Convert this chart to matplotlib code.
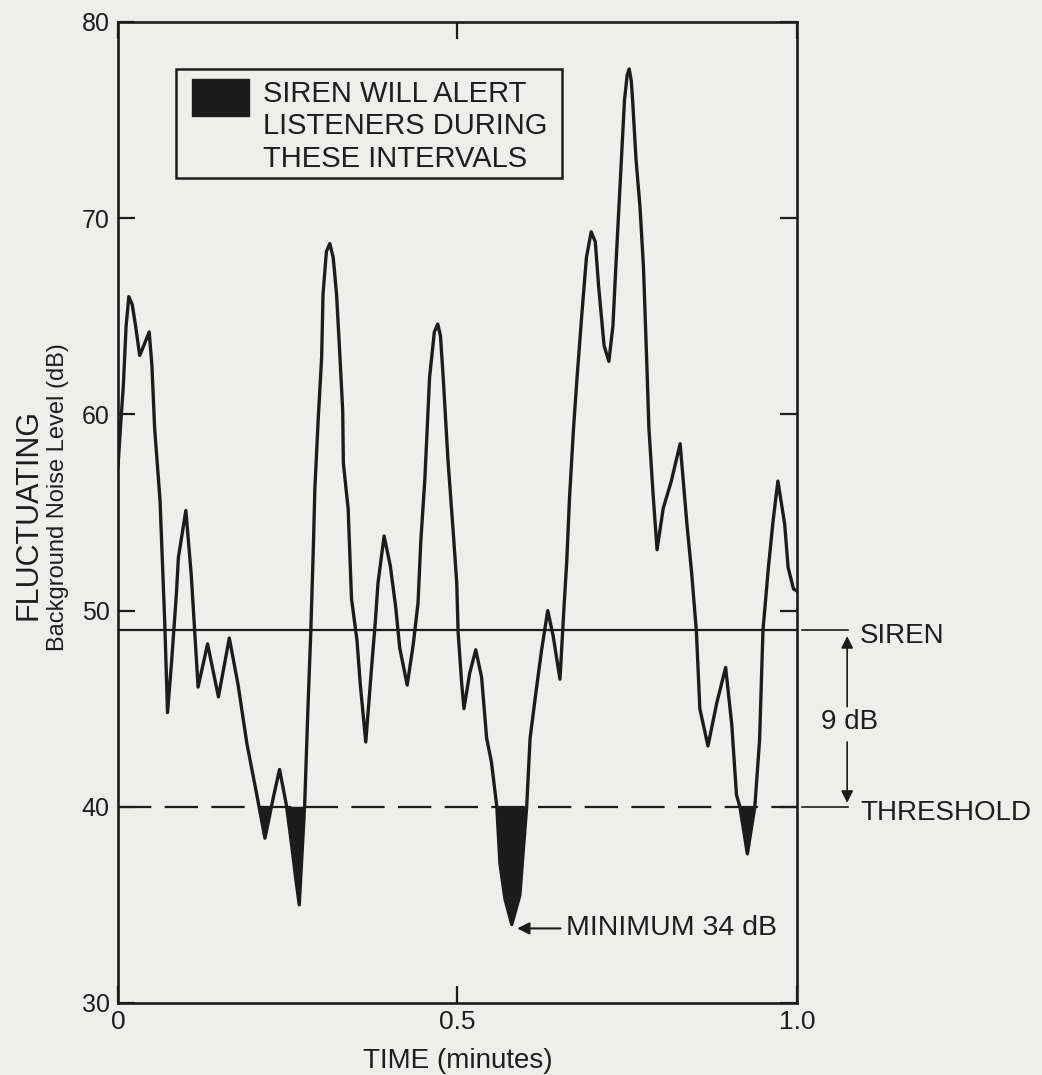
import matplotlib.pyplot as plt
import numpy as np
from matplotlib.patches import Rectangle

plt.rcParams['font.family'] = ['Liberation Sans', 'DejaVu Sans']

# traced background noise level (dB) vs time (minutes)
time_min = [0.0, 0.004, 0.008, 0.012, 0.016, 0.021, 0.026, 0.032, 0.038, 0.046,
            0.050, 0.054, 0.062, 0.069, 0.073, 0.079, 0.086, 0.089, 0.100, 0.108,
            0.118, 0.132, 0.148, 0.164, 0.177, 0.190, 0.204, 0.2165, 0.229, 0.238,
            0.248, 0.256, 0.262, 0.267, 0.275, 0.280, 0.284, 0.288, 0.290, 0.295,
            0.300, 0.302, 0.307, 0.312, 0.317, 0.322, 0.327, 0.331, 0.332, 0.339,
            0.344, 0.352, 0.357, 0.365, 0.374, 0.379, 0.383, 0.392, 0.401, 0.409,
            0.415, 0.426, 0.435, 0.442, 0.446, 0.452, 0.459, 0.466, 0.471, 0.475,
            0.479, 0.486, 0.494, 0.499, 0.501, 0.506, 0.5096, 0.518, 0.527, 0.5356,
            0.543, 0.550, 0.558, 0.5626, 0.570, 0.580, 0.592, 0.597, 0.602, 0.607,
            0.617, 0.624, 0.633, 0.641, 0.651, 0.657, 0.661, 0.665, 0.671, 0.676,
            0.683, 0.690, 0.697, 0.703, 0.708, 0.716, 0.723, 0.729, 0.734, 0.740,
            0.746, 0.750, 0.753, 0.756, 0.758, 0.763, 0.769, 0.774, 0.779, 0.782,
            0.788, 0.794, 0.803, 0.815, 0.828, 0.838, 0.845, 0.852, 0.857, 0.869,
            0.882, 0.895, 0.904, 0.911, 0.916, 0.927, 0.938, 0.945, 0.950, 0.958,
            0.965, 0.972, 0.982, 0.987, 0.995, 1.0]
level_db = [57.3, 59.5, 61.5, 64.5, 66.0, 65.6, 64.5, 63.0, 63.5, 64.2,
            62.5, 59.3, 55.6, 49.3, 44.8, 47.4, 50.8, 52.7, 55.1, 51.8,
            46.1, 48.3, 45.6, 48.6, 46.2, 43.2, 40.7, 38.4, 40.5, 41.9,
            40.1, 38.0, 36.3, 35.0, 40.1, 45.2, 48.9, 53.5, 56.2, 59.8,
            62.9, 66.1, 68.3, 68.7, 68.0, 66.1, 62.9, 60.2, 57.5, 55.2,
            50.6, 48.5, 46.2, 43.3, 47.3, 49.4, 51.4, 53.8, 52.3, 50.2,
            48.1, 46.2, 48.3, 50.4, 53.5, 56.7, 61.9, 64.2, 64.6, 64.0,
            61.9, 57.7, 53.9, 51.4, 48.9, 46.4, 45.0, 46.8, 48.0, 46.6,
            43.5, 42.3, 40.0, 37.1, 35.3, 34.0, 35.5, 37.8, 40.0, 43.5,
            46.2, 48.0, 50.0, 48.7, 46.5, 50.2, 52.5, 55.7, 59.3, 61.8,
            65.0, 68.0, 69.3, 68.8, 66.5, 63.5, 62.7, 64.5, 68.0, 72.0,
            76.0, 77.3, 77.6, 77.0, 76.0, 73.0, 70.5, 67.5, 62.5, 59.3,
            56.0, 53.1, 55.2, 56.6, 58.5, 54.4, 51.9, 48.9, 45.0, 43.1,
            45.3, 47.1, 44.2, 40.6, 40.0, 37.6, 40.0, 43.4, 49.0, 52.2,
            54.6, 56.6, 54.4, 52.2, 51.1, 51.0]

siren_db = 49
threshold_db = 40
minimum_db = 34

x_ticks = [0, 0.5, 1.0]
x_tick_labels = ['0', '0.5', '1.0']
y_ticks = [30, 40, 50, 60, 70, 80]

bg = '#eeeeec'
ink = '#1c1c1c'
txt = '#1e1e1e'

t = np.array(time_min)
level = np.array(level_db)

fig = plt.figure(figsize=(10.42, 10.75), dpi=100, facecolor=bg)
ax = fig.add_axes([0.1132, 0.067, 0.6516, 0.9126], facecolor=bg)

# shaded intervals below threshold
ax.fill_between(t, level, threshold_db, where=level < threshold_db,
                interpolate=True, color=ink, lw=0)
ax.plot(t, level, color=ink, lw=2.4, solid_joinstyle='round')

ax.axhline(siren_db, color=ink, lw=1.6)
ax.axhline(threshold_db, color=ink, lw=1.6, linestyle=(0, (15, 6)))

ax.set_xlim(0, 1.0)
ax.set_ylim(30, 80)
ax.set_xticks(x_ticks)
ax.set_xticklabels(x_tick_labels)
ax.set_yticks(y_ticks)
for s in ax.spines.values():
    s.set_linewidth(1.9)
    s.set_color(ink)
ax.tick_params(direction='in', length=12, width=1.6, colors=ink,
               labelsize=18, top=True, right=True, labelcolor=txt)
ax.tick_params(axis='y', pad=6)
ax.tick_params(axis='x', pad=5, labelsize=19)
ax.set_xlabel('TIME (minutes)', fontsize=20, color=txt, labelpad=10)

# y axis labels
fig.text(0.027, 0.521, 'FLUCTUATING', rotation=90, ha='center', va='center',
         fontsize=22, color=txt)
fig.text(0.056, 0.538, 'Background Noise Level (dB)', rotation=90,
         ha='center', va='center', fontsize=17, color=txt)

# key box
ax.add_patch(Rectangle((0.0854, 0.841), 0.5686, 0.111, transform=ax.transAxes,
                       facecolor='none', edgecolor=ink, lw=1.8))
ax.add_patch(Rectangle((0.109, 0.904), 0.084, 0.038, transform=ax.transAxes,
                       facecolor=ink, edgecolor=ink))
ax.text(0.2135, 0.941, 'SIREN WILL ALERT\nLISTENERS DURING\nTHESE INTERVALS',
        transform=ax.transAxes, ha='left', va='top', fontsize=21,
        linespacing=1.2, color=txt)

# minimum annotation
ax.annotate(f'MINIMUM {minimum_db} dB', xy=(0.588, 33.8), xytext=(0.66, 33.8),
            ha='left', va='center', fontsize=20.5, color=txt,
            arrowprops=dict(arrowstyle='-|>', color=ink, lw=1.5,
                            mutation_scale=18, shrinkA=2, shrinkB=0))

# right side siren/threshold markers
for yv in (siren_db, threshold_db):
    ax.plot([1.008, 1.075], [yv, yv], color=ink, lw=1.2, clip_on=False)
ax.text(1.093, siren_db - 0.3, 'SIREN', ha='left', va='center', fontsize=20,
        color=txt)
ax.text(1.093, threshold_db - 0.3, 'THRESHOLD', ha='left', va='center',
        fontsize=20, color=txt)
ax.text(1.078, 44.3, f'{siren_db - threshold_db} dB', ha='center', va='center',
        fontsize=20, color=txt)
ax.annotate('', xy=(1.074, siren_db - 0.3), xytext=(1.074, 45.1),
            annotation_clip=False,
            arrowprops=dict(arrowstyle='-|>', color=ink, lw=1.2,
                            mutation_scale=18, shrinkA=0, shrinkB=0))
ax.annotate('', xy=(1.074, threshold_db + 0.2), xytext=(1.074, 43.3),
            annotation_clip=False,
            arrowprops=dict(arrowstyle='-|>', color=ink, lw=1.2,
                            mutation_scale=18, shrinkA=0, shrinkB=0))

fig.savefig('out.png', dpi=100, facecolor=bg)
